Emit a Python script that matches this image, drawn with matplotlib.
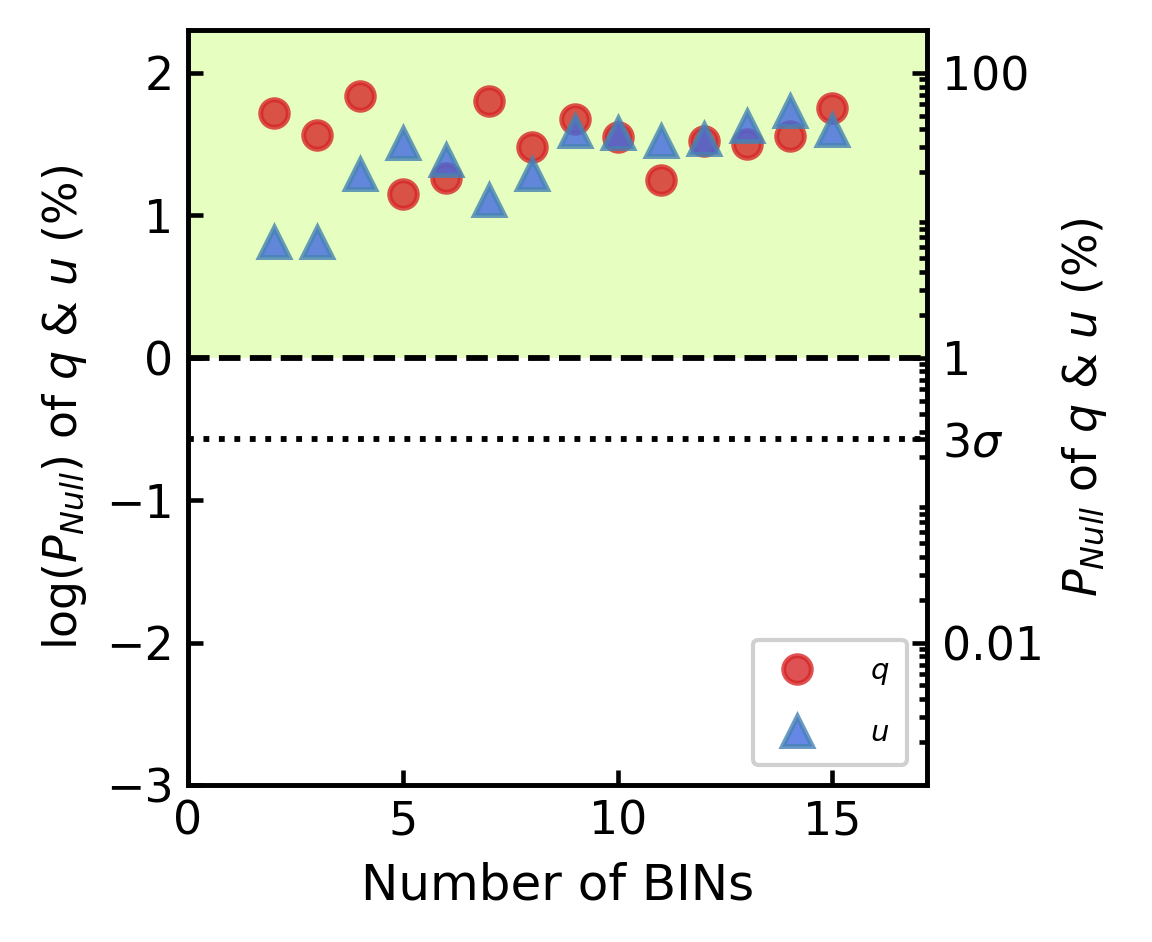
import numpy as np
import matplotlib
matplotlib.use("Agg")
import matplotlib.pyplot as plt

bins = [2, 3, 4, 5, 6, 7, 8, 9, 10, 11, 12, 13, 14, 15]
log_q = [1.72, 1.56, 1.84, 1.15, 1.26, 1.80, 1.48, 1.675, 1.55, 1.25, 1.52, 1.50, 1.555, 1.75]
log_u = [0.81, 0.81, 1.29, 1.51, 1.385, 1.105, 1.29, 1.59, 1.58, 1.52, 1.535, 1.625, 1.73, 1.60]

right_ticks = [100, 1, 0.27, 0.01]
right_labels = ['100', '1', r'$3\sigma$', '0.01']
sigma3 = np.log10(0.27)

plt.rcParams['axes.linewidth'] = 1.1
plt.rcParams['font.family'] = ['DejaVu Sans']

fig = plt.figure(figsize=(3.84, 3.14), dpi=300)
ax = fig.add_axes([188/1152, 157/942, (927-188)/1152, (785-30)/942])

ymin, ymax = -3, 2.3
ax.axhspan(0, ymax, color='greenyellow', alpha=0.3, lw=0, zorder=0)
ax.axhline(0, color='k', ls='--', lw=1.4, zorder=1)
ax.axhline(sigma3, color='k', ls=':', lw=1.4, zorder=1)

ax.plot(bins, log_q, 'o', ms=6.6, color='#d62728', mfc='#d62728', mec='#d62728',
        alpha=0.8, mew=1.2, label='$q$', zorder=3)
ax.plot(bins, log_u, '^', ms=7.2, color='royalblue', mfc='royalblue', mec='steelblue',
        alpha=0.8, mew=1.2, label='$u$', zorder=3)

ax.set_xlim(0, 17.2)
ax.set_ylim(ymin, ymax)
ax.set_xticks([0, 5, 10, 15])
ax.set_yticks([-3, -2, -1, 0, 1, 2])
ax.tick_params(direction='in', labelsize=11, width=1.1)
ax.set_xlabel('Number of BINs', fontsize=12)
ax.set_ylabel(r'log($P_{Null}$) of $q$ & $u$ (%)', fontsize=11)

leg = ax.legend(loc='lower right', fontsize=7, handletextpad=1.6, borderpad=0.6,
                labelspacing=1.1, handlelength=1.8, framealpha=1, edgecolor='#d0d0d0',
                borderaxespad=0.7)
leg.get_frame().set_linewidth(1.0)

ax2 = ax.twinx()
ax2.set_yscale('log')
ax2.set_ylim(10**ymin, 10**ymax)
ax2.set_yticks(right_ticks)
ax2.set_yticklabels(right_labels)
ax2.tick_params(direction='in', which='both', labelsize=11, width=1.1)
ax2.set_ylabel(r'$P_{Null}$ of $q$ & $u$ (%)', fontsize=11)

fig.savefig('out.png', dpi=300)
